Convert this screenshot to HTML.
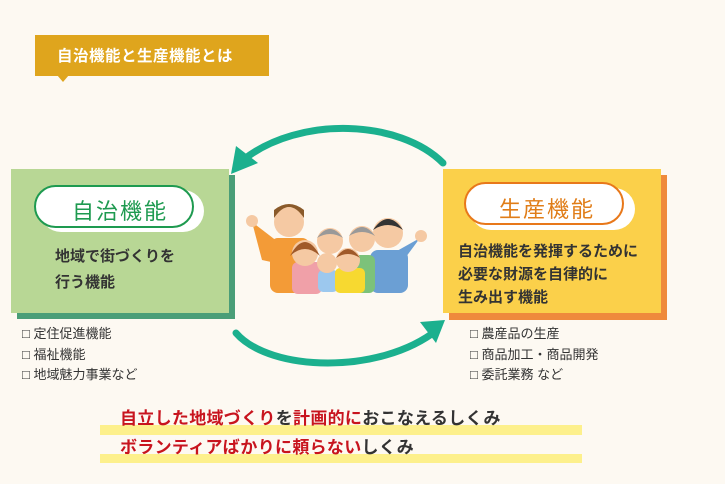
<!DOCTYPE html>
<html><head><meta charset="utf-8"><style>
*{margin:0;padding:0;box-sizing:border-box}
body{width:725px;height:484px;background:#fdf9f2;position:relative;overflow:hidden;font-family:"Liberation Sans","Noto Sans CJK JP",sans-serif}
.a{position:absolute;white-space:nowrap}
</style></head><body>
<div class="a" style="left:35px;top:35px;width:234px;height:41px;background:#dfa51d"></div>
<div class="a" style="left:57px;top:75px;width:0;height:0;border-left:6px solid transparent;border-right:6px solid transparent;border-top:7px solid #dfa51d"></div>
<div class="a" style="left:57px;top:44px;color:#fff;font-size:15.5px;font-weight:bold;letter-spacing:0.5px">自治機能と生産機能とは</div>

<svg class="a" style="left:0;top:0" width="725" height="484">
<g fill="none" stroke="#1bb08e" stroke-width="7" stroke-linecap="round">
<path d="M443 163 C400 120 300 115 243 160"/>
<path d="M236 333 C270 372 380 375 437 330"/>
</g>
<g fill="#1bb08e">
<polygon points="231,174 236,146 258,163"/>
<polygon points="445,320 420,322 436,343"/>
</g>
<g>
<path d="M252 222 L262 260 L285 265 L282 245 Z" fill="#f39b37"/>
<circle cx="252" cy="221" r="6" fill="#f5c9a3"/>
<rect x="270" y="238" width="40" height="55" rx="8" fill="#f39b37"/>
<circle cx="289" cy="222" r="15" fill="#f5c9a3"/>
<path d="M274 218 q15 -22 30 0 l0 -8 q-15 -12 -30 0z" fill="#8a5a2a"/>
<path d="M420 238 L400 265 L388 256 Z" fill="#6b9fd4"/>
<circle cx="421" cy="236" r="6" fill="#f5c9a3"/>
<rect x="370" y="250" width="38" height="43" rx="8" fill="#6b9fd4"/>
<circle cx="388" cy="233" r="15" fill="#f5c9a3"/>
<path d="M373 230 q15 -22 30 0 q-15 -10 -30 0z" fill="#333"/>
<circle cx="330" cy="241" r="13" fill="#f5c9a3"/><path d="M317 238 q13 -18 26 0 q-13 -8 -26 0z" fill="#999"/>
<circle cx="362" cy="239" r="13" fill="#f5c9a3"/><path d="M349 236 q13 -18 26 0 q-13 -8 -26 0z" fill="#999"/>
<rect x="345" y="255" width="30" height="38" rx="6" fill="#7cc27a"/>
<rect x="292" y="262" width="30" height="32" rx="6" fill="#f0a0a8"/>
<circle cx="305" cy="253" r="13" fill="#f5c9a3"/><path d="M290 256 q15 -28 30 0 q-15 -14 -30 0z" fill="#a05a2a"/>
<rect x="318" y="270" width="20" height="22" rx="5" fill="#9cc8ee"/>
<circle cx="327" cy="263" r="10" fill="#f5c9a3"/>
<rect x="335" y="268" width="30" height="25" rx="5" fill="#f7d930"/>
<circle cx="348" cy="260" r="12" fill="#f5c9a3"/><path d="M336 258 q12 -18 24 0 q-12 -8 -24 0z" fill="#a05a2a"/>
</g>
<g stroke-width="2.5" stroke-linecap="round">
<g stroke="#1e9a50"><line x1="31" y1="184" x2="35" y2="188"/><line x1="35" y1="180" x2="38" y2="186"/><line x1="40" y1="178" x2="41" y2="185"/></g>
<g stroke="#e8781a"><line x1="461" y1="182" x2="465" y2="186"/><line x1="465" y1="178" x2="468" y2="184"/><line x1="470" y1="176" x2="471" y2="183"/></g>
</g>
</svg>

<!-- green box -->
<div class="a" style="left:17px;top:175px;width:218px;height:144px;background:#4a9e78"></div>
<div class="a" style="left:11px;top:169px;width:218px;height:144px;background:#b8d795"></div>
<div class="a" style="left:40px;top:190px;width:164px;height:42px;border-radius:21px;background:#fff"></div>
<div class="a" style="left:34px;top:185px;width:160px;height:43px;border-radius:22px;border:2px solid #1e9a50;background:#fff"></div>
<div class="a" style="left:72px;top:194px;color:#1e9a50;font-size:22px;letter-spacing:2px">自治機能</div>
<div class="a" style="left:55px;top:244px;color:#333;font-size:15px;line-height:26px;font-weight:bold">地域で街づくりを<br>行う機能</div>
<div class="a" style="left:22px;top:324px;color:#333;font-size:13px;line-height:20.5px">□ 定住促進機能<br>□ 福祉機能<br>□ 地域魅力事業など</div>

<!-- yellow box -->
<div class="a" style="left:449px;top:175px;width:218px;height:145px;background:#ef8a3c"></div>
<div class="a" style="left:443px;top:169px;width:218px;height:144px;background:#fbd04a"></div>
<div class="a" style="left:470px;top:188px;width:165px;height:42px;border-radius:21px;background:#fff"></div>
<div class="a" style="left:464px;top:182px;width:160px;height:43px;border-radius:22px;border:2px solid #e8781a;background:#fff"></div>
<div class="a" style="left:499px;top:192px;color:#e07d18;font-size:22px;letter-spacing:2px">生産機能</div>
<div class="a" style="left:458px;top:240px;color:#333;font-size:15px;line-height:23px;font-weight:bold">自治機能を発揮するために<br>必要な財源を自律的に<br>生み出す機能</div>
<div class="a" style="left:470px;top:324px;color:#333;font-size:13px;line-height:20.5px">□ 農産品の生産<br>□ 商品加工・商品開発<br>□ 委託業務 など</div>

<!-- bottom -->
<div class="a" style="left:100px;top:425px;width:482px;height:10px;background:#fdf08c"></div>
<div class="a" style="left:100px;top:454px;width:482px;height:9px;background:#fdf08c"></div>
<div class="a" style="left:120px;top:404px;font-size:17px;color:#333;letter-spacing:0.3px;font-weight:bold"><span style="color:#c8141e">自立した地域づくり</span>を<span style="color:#c8141e">計画的に</span>おこなえるしくみ</div>
<div class="a" style="left:120px;top:433px;font-size:17px;color:#333;letter-spacing:0.3px;font-weight:bold"><span style="color:#c8141e">ボランティアばかりに頼らない</span>しくみ</div>
</body></html>
